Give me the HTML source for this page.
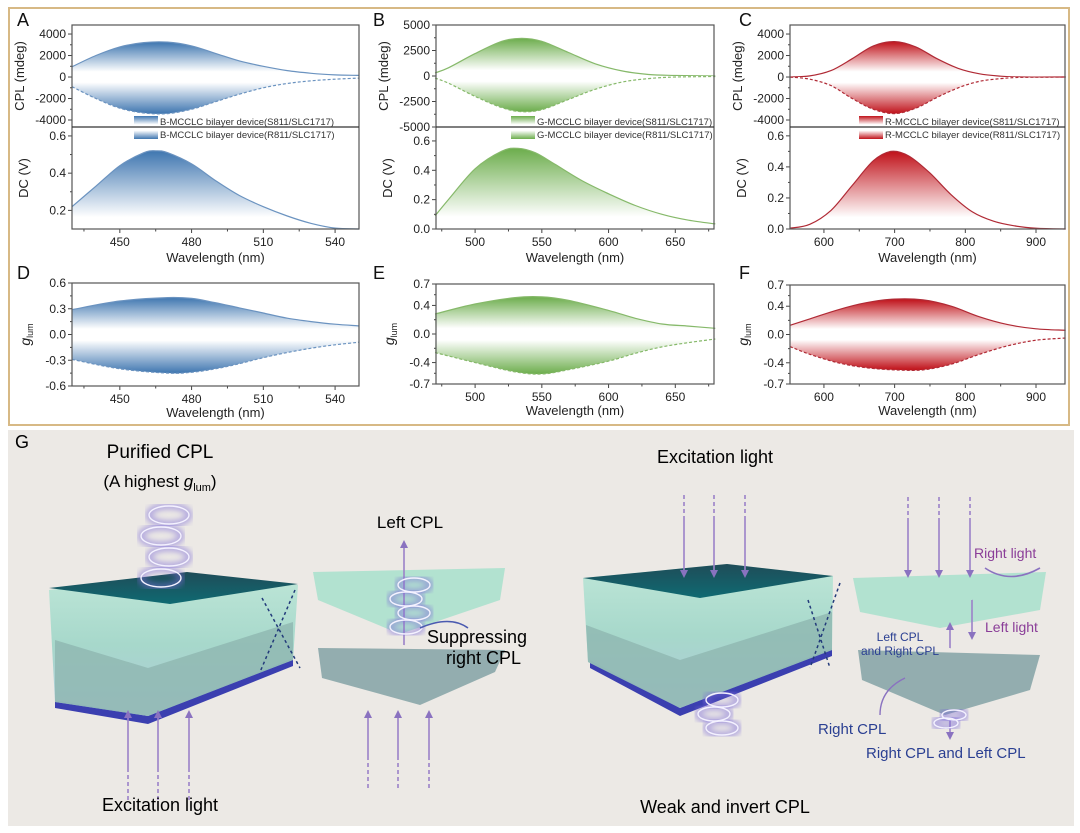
<!DOCTYPE html>
<html><head><meta charset="utf-8">
<style>
html,body{margin:0;padding:0;background:#fff;}
svg{display:block;font-family:"Liberation Sans",Arial,sans-serif;}
</style></head>
<body>
<svg id="fig" width="1080" height="833" viewBox="0 0 1080 833" xmlns="http://www.w3.org/2000/svg">
<defs>
<linearGradient id="teal" x1="0" y1="0" x2="0" y2="1"><stop offset="0" stop-color="#b9e6d6"/><stop offset="0.5" stop-color="#9fd6c8"/><stop offset="1" stop-color="#a8c6d8"/></linearGradient>
<linearGradient id="dark" x1="0" y1="0" x2="0" y2="1"><stop offset="0" stop-color="#1f4c58"/><stop offset="1" stop-color="#0f6a72"/></linearGradient>
<filter id="glow"><feGaussianBlur stdDeviation="3"/></filter>
</defs>
<rect x="9" y="8" width="1060" height="417" fill="#fff" stroke="#d7b985" stroke-width="2"/>
<g id="charts"></g>
<g id="schem">
<rect x="8" y="430" width="1066" height="396" fill="#ece9e5"/>
<text x="15" y="448" font-size="18">G</text>
<g>
<polygon points="55,700 148,716 293,658 293,666 148,724 55,708" fill="#3b3fb0"/>
<polygon points="49,590 187,574 298,585 293,660 148,716 55,702" fill="url(#teal)" opacity="0.9"/>
<polygon points="55,640 148,668 293,622 293,660 148,716 55,702" fill="#8fb6b0" opacity="0.8"/>
<polygon points="49,588 187,572 298,584 170,604" fill="url(#dark)"/>
</g>
<g>
<polygon points="313,572 505,568 500,600 400,634 318,600" fill="#a8e0cc" opacity="0.85"/>
<polygon points="318,648 505,650 495,672 420,705 322,678" fill="#8aa6a8" opacity="0.9"/>
</g>
<path d="M295,590 L260,672 M262,598 L300,668" stroke="#223a7a" stroke-width="1.5" stroke-dasharray="3,3" fill="none"/>
<g>
<polygon points="590,660 680,708 832,648 832,656 680,716 590,668" fill="#3b3fb0"/>
<polygon points="583,578 727,564 833,576 832,650 680,708 588,662" fill="url(#teal)" opacity="0.9"/>
<polygon points="586,625 680,660 832,612 832,650 680,708 588,662" fill="#8fb6b0" opacity="0.8"/>
<polygon points="583,578 727,564 833,576 700,598" fill="url(#dark)"/>
</g>
<g>
<polygon points="853,578 1046,572 1040,610 940,628 860,612" fill="#a8e0cc" opacity="0.85"/>
<polygon points="858,650 1040,655 1030,690 945,715 862,680" fill="#8aa6a8" opacity="0.9"/>
</g>
<path d="M840,583 L810,668 M808,600 L830,668" stroke="#223a7a" stroke-width="1.5" stroke-dasharray="3,3" fill="none"/>
<g id="arrows" stroke="#9b82c8" stroke-width="1.6" fill="#8a72c0"></g>
<g id="spirals"></g>
<text x="160" y="458" font-size="19" text-anchor="middle">Purified CPL</text>
<text x="160" y="487" font-size="17" text-anchor="middle">(A highest <tspan font-style="italic">g</tspan><tspan font-size="11" dy="4">lum</tspan><tspan dy="-4">)</tspan></text>
<text x="410" y="528" font-size="17" text-anchor="middle">Left CPL</text>
<text x="427" y="643" font-size="18">Suppressing</text>
<text x="446" y="664" font-size="18">right CPL</text>
<text x="160" y="811" font-size="18" text-anchor="middle">Excitation light</text>
<text x="715" y="463" font-size="18" text-anchor="middle">Excitation light</text>
<text x="725" y="813" font-size="18" text-anchor="middle">Weak and invert CPL</text>
<text x="974" y="558" font-size="14" fill="#8a3d98">Right light</text>
<text x="985" y="632" font-size="14" fill="#8a3d98">Left light</text>
<text x="900" y="641" font-size="12" fill="#2a3f92" text-anchor="middle">Left CPL</text>
<text x="900" y="655" font-size="12" fill="#2a3f92" text-anchor="middle">and Right CPL</text>
<text x="818" y="734" font-size="15" fill="#2a3f92">Right CPL</text>
<text x="866" y="758" font-size="15" fill="#2a3f92">Right CPL and Left CPL</text>
</g>
</svg>
<script>
const aWave=[430,440,450,460,470,480,490,500,510,520,530,540,550];
const aCplS=[950,2000,2800,3200,3250,2900,2200,1500,1000,600,350,200,150];
const aCplR=[-900,-2000,-2900,-3350,-3400,-3000,-2300,-1600,-1000,-600,-350,-200,-100];
const aDcWave=[430,440,450,460,465,470,480,490,500,510,520,530,540,550];
const aDc=[0.22,0.33,0.44,0.51,0.52,0.51,0.45,0.36,0.28,0.22,0.17,0.13,0.105,0.1];
const aGWave=[430,450,470,480,490,500,510,520,530,540,550];
const aGS=[0.29,0.39,0.43,0.42,0.37,0.31,0.25,0.19,0.15,0.12,0.10];
const aGR=[-0.29,-0.40,-0.45,-0.44,-0.40,-0.34,-0.27,-0.21,-0.16,-0.12,-0.09];

const bWave=[470,480,500,520,535,550,570,590,610,630,650,680];
const bCplS=[300,800,2200,3400,3700,3400,2300,1200,500,150,50,0];
const bCplR=[-200,-700,-2000,-3100,-3500,-3300,-2300,-1300,-600,-250,-100,-50];
const bDcWave=[470,480,500,520,532,545,560,580,600,620,640,660,680];
const bDc=[0.09,0.2,0.41,0.53,0.55,0.52,0.44,0.33,0.24,0.16,0.1,0.06,0.035];
const bGWave=[470,500,530,550,570,600,620,640,660,680];
const bGS=[0.28,0.42,0.51,0.52,0.47,0.33,0.22,0.14,0.11,0.08];
const bGR=[-0.26,-0.40,-0.53,-0.56,-0.5,-0.38,-0.27,-0.18,-0.12,-0.07];

const cWave=[552,580,610,640,670,700,730,760,790,820,850,880,942];
const cCplS=[0,100,600,1700,2900,3300,2800,1700,800,300,80,0,0];
const cCplR=[0,-200,-800,-2000,-3000,-3400,-2900,-1900,-1000,-400,-150,-30,0];
const cDcWave=[552,580,610,640,670,695,720,750,780,810,840,870,900,942];
const cDc=[0.005,0.03,0.12,0.28,0.44,0.5,0.47,0.36,0.22,0.11,0.05,0.02,0.005,0];
const cGWave=[552,580,620,660,700,740,780,820,860,900,942];
const cGS=[0.13,0.22,0.35,0.45,0.5,0.49,0.4,0.25,0.14,0.08,0.06];
const cGR=[-0.17,-0.28,-0.4,-0.47,-0.5,-0.5,-0.42,-0.28,-0.16,-0.08,-0.05];

const aXTicks=[450,480,510,540];
const bXTicks=[500,550,600,650];
const cXTicks=[600,700,800,900];
const aCplTicks=[4000,2000,0,-2000,-4000];
const bCplTicks=[5000,2500,0,-2500,-5000];
const cCplTicks=[4000,2000,0,-2000,-4000];
const aDcTicks=[0.2,0.4,0.6];
const bDcTicks=[0.0,0.2,0.4,0.6];
const cDcTicks=[0.0,0.2,0.4,0.6];
const aGTicks=[0.6,0.3,0.0,-0.3,-0.6];
const bGTicks=[0.7,0.4,0.0,-0.4,-0.7];
const cGTicks=[0.7,0.4,0.0,-0.4,-0.7];

const NS="http://www.w3.org/2000/svg";
const root=document.getElementById('charts');
let gid=0;
function mk(tag,attrs,parent){const e=document.createElementNS(NS,tag);for(const k in attrs)e.setAttribute(k,attrs[k]);(parent||root).appendChild(e);return e;}
function scale(d0,d1,r0,r1){return v=>r0+(v-d0)/(d1-d0)*(r1-r0);}
function grad(color,y0,y1){const id='g'+(gid++);const defs=document.querySelector('defs');
 const lg=mk('linearGradient',{id:id,gradientUnits:'userSpaceOnUse',x1:0,y1:y0,x2:0,y2:y1},defs);
 mk('stop',{offset:0,'stop-color':'#fff','stop-opacity':1},lg);mk('stop',{offset:0.15,'stop-color':'#fff'},lg);
 mk('stop',{offset:1,'stop-color':color},lg);return 'url(#'+id+')';}
function smoothPath(xs,ys,X,Y){const p=xs.map((w,i)=>[X(w),Y(ys[i])]);let d='M'+p[0][0]+','+p[0][1];
 for(let i=0;i<p.length-1;i++){const p0=p[i-1]||p[i],p1=p[i],p2=p[i+1],p3=p[i+2]||p2;
  d+='C'+(p1[0]+(p2[0]-p0[0])/6).toFixed(1)+','+(p1[1]+(p2[1]-p0[1])/6).toFixed(1)+' '+(p2[0]-(p3[0]-p1[0])/6).toFixed(1)+','+(p2[1]-(p3[1]-p1[1])/6).toFixed(1)+' '+p2[0].toFixed(1)+','+p2[1].toFixed(1);}
 return d;}
function fmt(v,dec){return v.toFixed(dec);}
function yAxis(g,Y,ticks,x,dec,name){ticks.forEach((t,i)=>{mk('line',{x1:x-4,x2:x,y1:Y(t),y2:Y(t),stroke:'#444'},g);
 if(i<ticks.length-1){const m=(t+ticks[i+1])/2;mk('line',{x1:x-2,x2:x,y1:Y(m),y2:Y(m),stroke:'#444'},g);}
 const tx=mk('text',{x:x-6,y:Y(t)+4,'font-size':12,'text-anchor':'end',fill:'#222'},g);tx.textContent=fmt(t,dec);
 
 });}
function xAxis(g,X,ticks,y,name){const st=ticks[1]-ticks[0];
 [ticks[0]-st/2].concat(ticks.map(t=>t+st/2)).forEach(m=>{const px=X(m);if(px>X.lo&&px<X.hi)mk('line',{x1:px,x2:px,y1:y,y2:y+2.5,stroke:'#444'},g);});
 ticks.forEach(t=>{mk('line',{x1:X(t),x2:X(t),y1:y,y2:y+4,stroke:'#444'},g);
 const tx=mk('text',{x:X(t),y:y+17,'font-size':12,'text-anchor':'middle',fill:'#222'},g);tx.textContent=t;
 
 });}
function ytitle(g,x,y,txt,name,glum){const t=mk('text',{x:x,y:y,'font-size':13,'text-anchor':'middle',transform:'rotate(-90 '+x+' '+y+')',fill:'#222'},g);
 if(glum){t.innerHTML='<tspan font-style="italic" font-size="14">g</tspan><tspan font-size="9" dy="3">lum</tspan>';}else t.textContent=txt;
 
 }
function area(g,xs,ys,X,Y,base,fill,line,dash){const d=smoothPath(xs,ys,X,Y);
 mk('path',{d:d+'L'+X(xs[xs.length-1])+','+base+'L'+X(xs[0])+','+base+'Z',fill:fill,stroke:'none'},g);
 return mk('path',{d:d,fill:'none',stroke:line,'stroke-width':1.2,'stroke-dasharray':dash||'none'},g);}

function panel(p){
 const g=mk('g',{});
 
 
 const X=scale(p.xmin,p.xmax,p.x0,p.x1);X.lo=p.x0;X.hi=p.x1;
 const Yc=scale(p.cmin,p.cmax,127,25);const z=Yc(0);
 const cg=mk('g',{},g);
 
 
 const top=Math.min(...p.cS.map(Yc)),bot=Math.max(...p.cR.map(Yc));
 const s1=area(cg,p.wave,p.cS,X,Yc,z,grad(p.col,z,top),p.line);
 
 
 const s2=area(cg,p.wave,p.cR,X,Yc,z,grad(p.col,z,bot),p.line,'3,2');
 
 
 yAxis(cg,Yc,p.cT,p.x0,0,'cpl-y');
 ytitle(cg,p.x0-48,76,'CPL (mdeg)','cpl-y-axis-title');
 const Yd=scale(p.dmin,p.dmax,229,127);
 const dg=mk('g',{},g);
 
 
 const dtop=Math.min(...p.dc.map(Yd));
 const d1=area(dg,p.dw,p.dc,X,Yd,229,grad(p.col,229,dtop),p.line);
 
 
 yAxis(dg,Yd,p.dT,p.x0,1,'dc-y');
 ytitle(dg,p.x0-44,178,'DC (V)','dc-y-axis-title');
 xAxis(dg,X,p.xT,229,'dc-x');
 const xt=mk('text',{x:(p.x0+p.x1)/2,y:262,'font-size':13,'text-anchor':'middle',fill:'#222'},g);xt.textContent='Wavelength (nm)';
 
 
 mk('rect',{x:p.x0,y:25,width:p.x1-p.x0,height:204,fill:'none',stroke:'#555','stroke-width':1.2},g);
 mk('line',{x1:p.x0,x2:p.x1,y1:127,y2:127,stroke:'#333','stroke-width':1.2},g);
 const lg=mk('g',{},g);
 
 
 mk('rect',{x:p.lx,y:116,width:24,height:10,fill:grad(p.col,126,116)},lg);
 mk('rect',{x:p.lx,y:129,width:24,height:10,fill:grad(p.col,129,139)},lg);
 const t1=mk('text',{x:p.lx+26,y:125,'font-size':9.5,fill:'#333'},lg);t1.textContent=p.pre+'-MCCLC bilayer device(S811/SLC1717)';
 const t2=mk('text',{x:p.lx+26,y:138,'font-size':9.5,fill:'#333'},lg);t2.textContent=p.pre+'-MCCLC bilayer device(R811/SLC1717)';
 const Yg=scale(-p.gm,p.gm,p.gy1,p.gy0);const gz=Yg(0);
 const gg=mk('g',{},g);
 
 
 const gt=Math.min(...p.gS.map(Yg)),gb=Math.max(...p.gR.map(Yg));
 const g1=area(gg,p.gw,p.gS,X,Yg,gz,grad(p.col,gz,gt),p.line);
 
 
 const g2=area(gg,p.gw,p.gR,X,Yg,gz,grad(p.col,gz,gb),p.line,'3,2');
 
 
 yAxis(gg,Yg,p.gT,p.x0,1,'glum-y');
 ytitle(gg,p.x0-42,(p.gy0+p.gy1)/2,'','glum-y-axis-title',true);
 xAxis(gg,X,p.xT,p.gy1,'glum-x');
 mk('rect',{x:p.x0,y:p.gy0,width:p.x1-p.x0,height:p.gy1-p.gy0,fill:'none',stroke:'#555','stroke-width':1.2},gg);
 const xt2=mk('text',{x:(p.x0+p.x1)/2,y:p.gy1+31,'font-size':13,'text-anchor':'middle',fill:'#222'},g);xt2.textContent='Wavelength (nm)';
 
 
 const L1=mk('text',{x:p.lbx,y:26,'font-size':18,fill:'#111'},g);L1.textContent=p.L1;
 
 
 const L2=mk('text',{x:p.lbx,y:279,'font-size':18,fill:'#111'},g);L2.textContent=p.L2;
 
 
}
panel({key:'blue',pre:'B',col:'#3f76b0',line:'#6b93c0',x0:72,x1:359,xmin:430,xmax:550,cmin:-4650,cmax:4840,dmin:0.1,dmax:0.648,gm:0.6,gy0:283,gy1:386,
 wave:aWave,cS:aCplS,cR:aCplR,dw:aDcWave,dc:aDc,gw:aGWave,gS:aGS,gR:aGR,xT:aXTicks,cT:aCplTicks,dT:aDcTicks,gT:aGTicks,lx:134,lbx:17,L1:'A',L2:'D'});
panel({key:'green',pre:'G',col:'#6cad4c',line:'#86b96a',x0:436,x1:714,xmin:470.7,xmax:679,cmin:-5000,cmax:5000,dmin:0,dmax:0.695,gm:0.7,gy0:284,gy1:384,
 wave:bWave,cS:bCplS,cR:bCplR,dw:bDcWave,dc:bDc,gw:bGWave,gS:bGS,gR:bGR,xT:bXTicks,cT:bCplTicks,dT:bDcTicks,gT:bGTicks,lx:511,lbx:373,L1:'B',L2:'E'});
panel({key:'red',pre:'R',col:'#c0121a',line:'#b02a35',x0:790,x1:1065,xmin:552,xmax:941,cmin:-4650,cmax:4840,dmin:0,dmax:0.657,gm:0.7,gy0:285,gy1:384,
 wave:cWave,cS:cCplS,cR:cCplR,dw:cDcWave,dc:cDc,gw:cGWave,gS:cGS,gR:cGR,xT:cXTicks,cT:cCplTicks,dT:cDcTicks,gT:cGTicks,lx:859,lbx:739,L1:'C',L2:'F'});

const ag=document.getElementById('arrows');
function arrow(x,y0,y1,dashLen){const dir=Math.sign(y1-y0);const g=mk('g',{},ag);
 
 
 const ym=y0+dir*dashLen;
 mk('line',{x1:x,y1:y0,x2:x,y2:ym,'stroke-dasharray':'4,3'},g);
 mk('line',{x1:x,y1:ym,x2:x,y2:y1-dir*6},g);
 mk('polygon',{points:(x-4)+','+(y1-dir*8)+' '+(x+4)+','+(y1-dir*8)+' '+x+','+y1,stroke:'none'},g);}
[128,158,189].forEach(x=>arrow(x,800,710,30));
[368,398,429].forEach(x=>arrow(x,788,710,30));
arrow(404,645,540,0);
[684,714,745].forEach(x=>arrow(x,495,578,25));
[908,939,970].forEach(x=>arrow(x,497,578,25));
arrow(950,648,622,0);arrow(972,600,640,0);
arrow(950,720,740,0);
const sg=document.getElementById('spirals');
function spiral(cx,y0,n,rx,ry,step){const g=mk('g',{},sg);
 
 
 for(let i=0;i<n;i++){mk('ellipse',{cx:cx+(i%2?-4:4),cy:y0+i*step,rx:rx,ry:ry,fill:'none',stroke:'#7b6ad8','stroke-width':7,opacity:0.5,filter:'url(#glow)'},g);}
 for(let i=0;i<n;i++){mk('ellipse',{cx:cx+(i%2?-4:4),cy:y0+i*step,rx:rx,ry:ry,fill:'none',stroke:'#f4f2ff','stroke-width':1.4},g);}}
spiral(165,515,4,20,9,21);
spiral(410,585,4,16,7,14);
spiral(718,700,3,16,7,14);
spiral(950,715,2,12,5,8);
mk('path',{d:'M420,628 Q450,615 468,628',fill:'none',stroke:'#4a5ab0','stroke-width':1.6},sg);
mk('path',{d:'M985,568 Q1010,585 1040,568',fill:'none',stroke:'#8a72c0','stroke-width':1.6},sg);
mk('path',{d:'M905,678 Q880,690 880,715',fill:'none',stroke:'#8a72c0','stroke-width':1.4},sg);
</script>
</body></html>
